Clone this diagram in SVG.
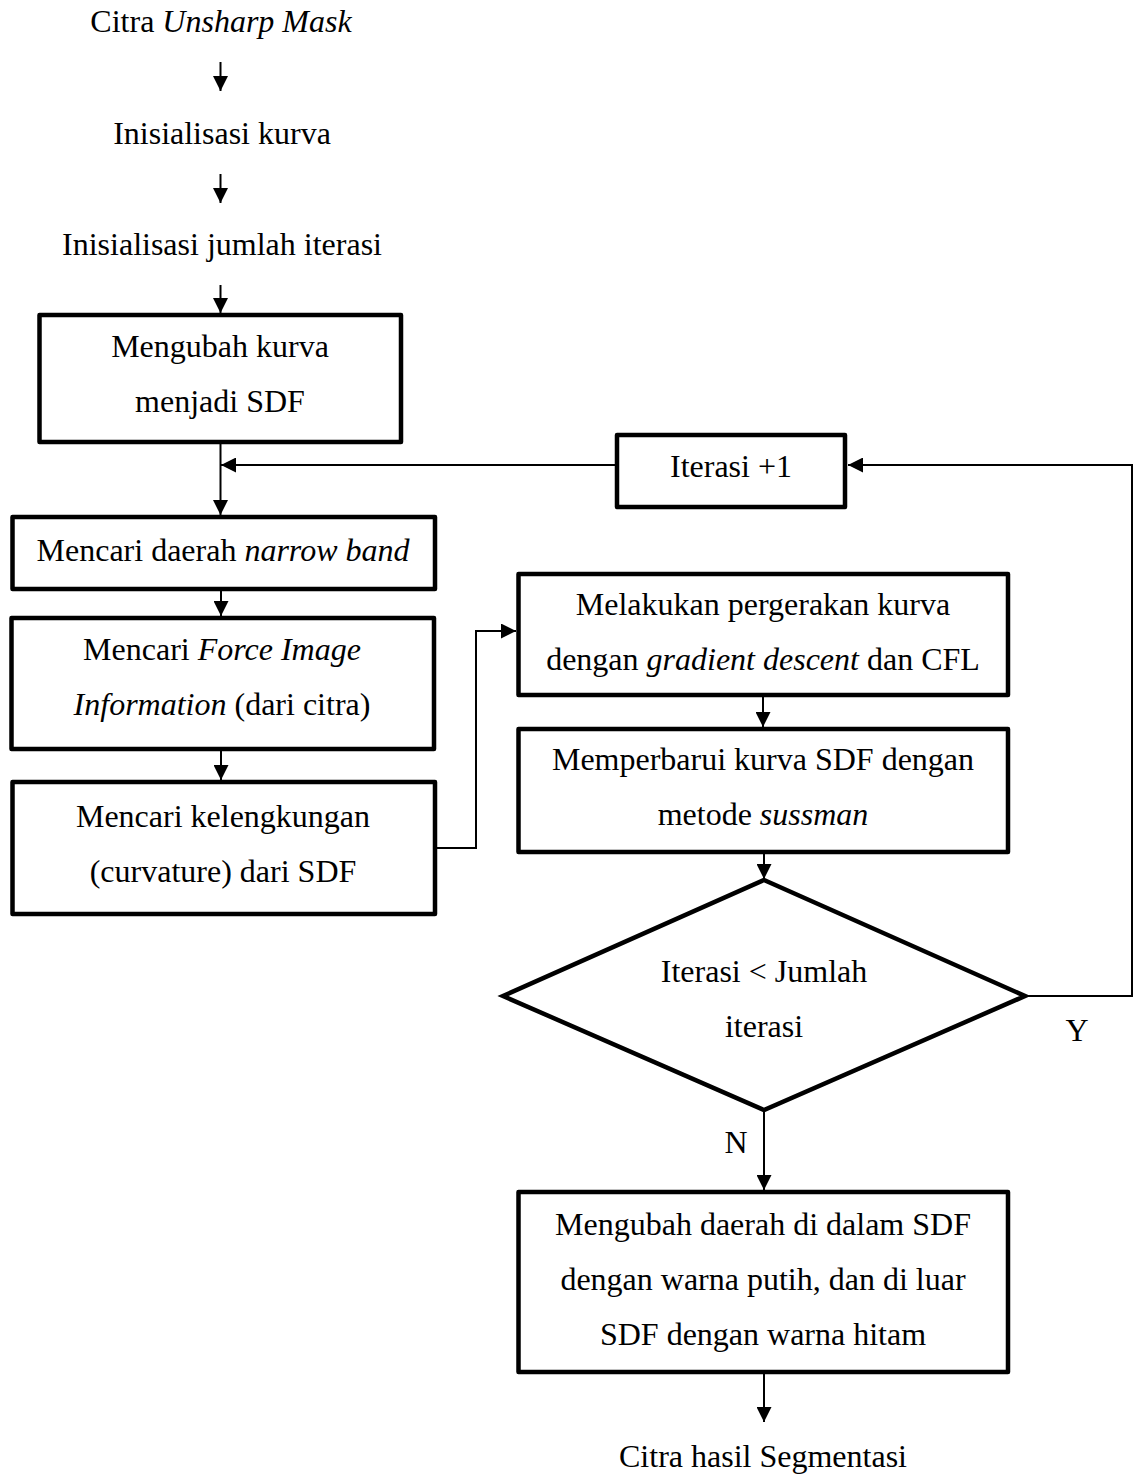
<svg xmlns="http://www.w3.org/2000/svg" width="1134" height="1475" viewBox="0 0 1134 1475">
  <style>
    text { font-family: "Liberation Serif", "Times New Roman", serif; font-size: 32px; fill: #000; text-anchor: middle; }
    .it { font-style: italic; }
    .box { fill: #fff; stroke: #000; stroke-width: 4.5; stroke-linejoin: round; }
    .dec { fill: #fff; stroke: #000; stroke-width: 4.5; stroke-linejoin: miter; }
    .conn { fill: none; stroke: #000; stroke-width: 2; }
    .arrow { marker-end: url(#head); }
  </style>
  <defs>
    <marker id="head" markerUnits="userSpaceOnUse" markerWidth="15" markerHeight="15" viewBox="0 0 15 15" refX="15" refY="7.5" orient="auto">
      <path d="M0,0 L15,7.5 L0,15 Z" fill="#000"/>
    </marker>
  </defs>

  <!-- connectors -->
  <g id="connectors">
    <path class="conn arrow" d="M220.5,62 V91"/>
    <path class="conn arrow" d="M220.5,174 V203"/>
    <path class="conn arrow" d="M220.5,285 V313"/>
    <path class="conn arrow" d="M220.5,444 V515"/>
    <path class="conn arrow" d="M615,465 H221"/>
    <path class="conn arrow" d="M221,591 V616"/>
    <path class="conn arrow" d="M221,751 V780"/>
    <path class="conn arrow" d="M437,848 H476 V631 H516"/>
    <path class="conn arrow" d="M763,697 V727"/>
    <path class="conn arrow" d="M764,854 V879"/>
    <path class="conn arrow" d="M1025,996 H1132 V465 H848"/>
    <path class="conn arrow" d="M764,1110 V1190"/>
    <path class="conn arrow" d="M764,1374 V1422"/>
  </g>

  <!-- start / intermediate labels -->
  <g id="start">
    <text x="221" y="32">Citra <tspan class="it">Unsharp Mask</tspan></text>
  </g>
  <g id="init-curve">
    <text x="222" y="144">Inisialisasi kurva</text>
  </g>
  <g id="init-iter">
    <text x="222" y="255">Inisialisasi jumlah iterasi</text>
  </g>

  <g id="to-sdf">
    <rect class="box" x="39.5" y="315" width="361.5" height="127"/>
    <text x="220" y="357">Mengubah kurva</text>
    <text x="220" y="412">menjadi SDF</text>
  </g>

  <g id="iter-inc">
    <rect class="box" x="617" y="435" width="228" height="72"/>
    <text x="731" y="477">Iterasi +1</text>
  </g>

  <g id="narrow-band">
    <rect class="box" x="12.5" y="517" width="422.5" height="72"/>
    <text x="223" y="561">Mencari daerah <tspan class="it">narrow band</tspan></text>
  </g>

  <g id="force-image">
    <rect class="box" x="11.5" y="618" width="422.5" height="131"/>
    <text x="222" y="660">Mencari <tspan class="it">Force Image</tspan></text>
    <text x="222" y="715"><tspan class="it">Information</tspan> (dari citra)</text>
  </g>

  <g id="curvature">
    <rect class="box" x="12.5" y="782" width="422.5" height="132"/>
    <text x="223" y="827">Mencari kelengkungan</text>
    <text x="223" y="882">(curvature) dari SDF</text>
  </g>

  <g id="move-curve">
    <rect class="box" x="518.5" y="574" width="489.5" height="121"/>
    <text x="763" y="615">Melakukan pergerakan kurva</text>
    <text x="763" y="670">dengan <tspan class="it">gradient descent</tspan> dan CFL</text>
  </g>

  <g id="update-sdf">
    <rect class="box" x="518.5" y="729" width="489.5" height="123"/>
    <text x="763" y="770">Memperbarui kurva SDF dengan</text>
    <text x="763" y="825">metode <tspan class="it">sussman</tspan></text>
  </g>

  <g id="check-iter">
    <polygon class="dec" points="764,880 1025,996 764,1110 503,996"/>
    <text x="764" y="982">Iterasi &lt; Jumlah</text>
    <text x="764" y="1037">iterasi</text>
  </g>

  <g id="label-y">
    <text x="1077" y="1041">Y</text>
  </g>
  <g id="label-n">
    <text x="736" y="1153">N</text>
  </g>

  <g id="binarize">
    <rect class="box" x="518.5" y="1192" width="489.5" height="180"/>
    <text x="763" y="1235">Mengubah daerah di dalam SDF</text>
    <text x="763" y="1290">dengan warna putih, dan di luar</text>
    <text x="763" y="1345">SDF dengan warna hitam</text>
  </g>

  <g id="result">
    <text x="763" y="1467">Citra hasil Segmentasi</text>
  </g>
</svg>
